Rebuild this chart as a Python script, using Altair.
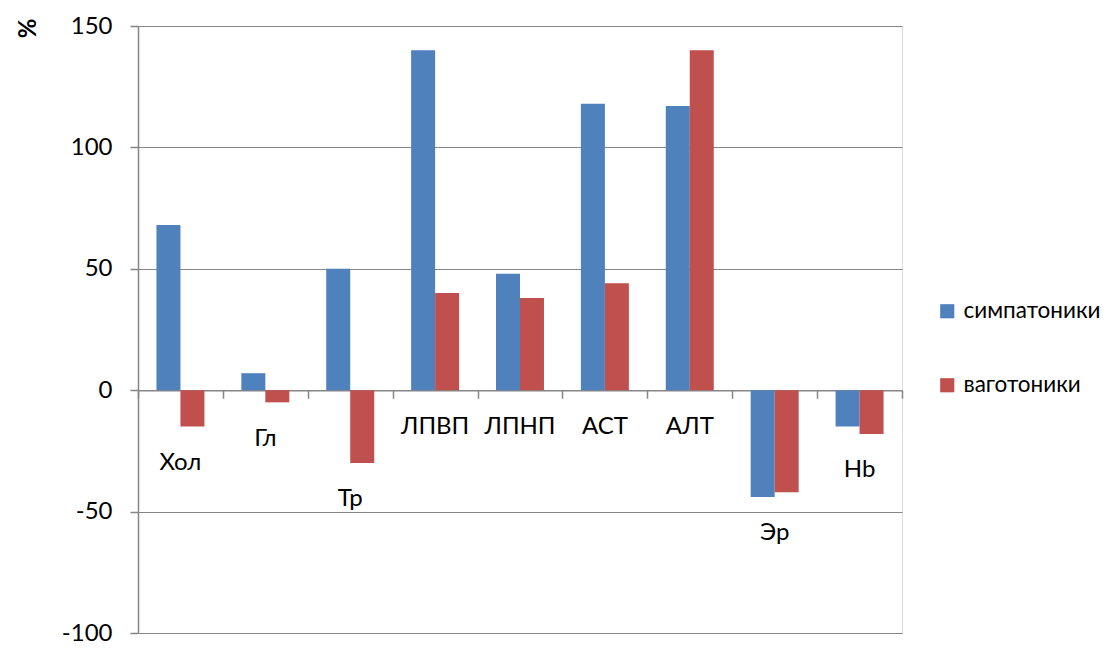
import altair as alt
import pandas as pd

categories = ["Хол", "Гл", "Тр", "ЛПВП", "ЛПНП", "АСТ", "АЛТ", "Эр", "Hb"]
series = ["симпатоники", "ваготоники"]
sympat = [68, 7, 50, 140, 48, 118, 117, -44, -15]
vagot = [-15, -5, -30, 40, 38, 44, 140, -42, -18]
colors = ["#4F81BD", "#C0504D"]

FONT = "Lato"
FS = 24
GRID = "#868686"

rows = []
for c, a, b in zip(categories, sympat, vagot):
    rows.append({"cat": c, "series": series[0], "value": a})
    rows.append({"cat": c, "series": series[1], "value": b})
df = pd.DataFrame(rows)
wide = pd.DataFrame({"cat": categories, "a": sympat, "b": vagot})

H = 607
xscale = alt.Scale(domain=categories, paddingInner=0, paddingOuter=0)
yscale = alt.Scale(domain=[-100, 150], nice=False, zero=False)

bars = alt.Chart(df).mark_bar(size=24).encode(
    x=alt.X("cat:N", scale=xscale, sort=categories,
            axis=alt.Axis(title=None, labels=False, tickBand="extent", offset=-H * 0.4,
                          domainColor=GRID, tickColor=GRID, tickSize=8, grid=False,
                          domainWidth=1.5, tickWidth=1.5)),
    xOffset=alt.XOffset("series:N", sort=series,
                        scale=alt.Scale(domain=series, paddingInner=0, paddingOuter=0.77)),
    y=alt.Y("value:Q", scale=yscale,
            axis=alt.Axis(values=[-100, -50, 0, 50, 100, 150], title="%",
                          labelExpr="'' + datum.value",
                          titleFont=FONT, titleFontSize=FS, titleFontWeight="bold",
                          titleX=-110, titleY=2, titleAngle=-90, titleAlign="center",
                          titleBaseline="middle",
                          labelFont=FONT, labelFontSize=FS, labelColor="#000000",
                          labelPadding=18, tickSize=8, tickColor=GRID,
                          domainColor=GRID, domainWidth=1.5, tickWidth=1.5,
                          gridColor=GRID, gridWidth=1.2)),
    color=alt.Color("series:N", sort=series,
                    scale=alt.Scale(domain=series, range=colors),
                    legend=alt.Legend(title=None, orient="none", legendX=798, legendY=274,
                                      symbolType="square", symbolSize=200,
                                      symbolStrokeWidth=0, labelFont=FONT,
                                      labelFontSize=22.5, labelColor="#000000",
                                      rowPadding=51, labelOffset=5)),
)

labels = alt.Chart(wide).transform_calculate(
    ly="min(0, datum.a, datum.b) - 15"
).mark_text(font=FONT, fontSize=FS, color="#000000", align="center", baseline="middle").encode(
    x=alt.X("cat:N", scale=xscale, sort=categories),
    y=alt.Y("ly:Q", scale=yscale),
    text="cat:N",
)

chart = alt.layer(bars, labels).properties(
    width=764, height=H,
    autosize=alt.AutoSizeParams(type="none"),
    padding={"left": 130, "top": 18, "right": 206, "bottom": 15},
).configure_view(stroke=None).configure(background="#ffffff")

chart.save("out.html", embed_options={"renderer": "svg", "actions": False})
